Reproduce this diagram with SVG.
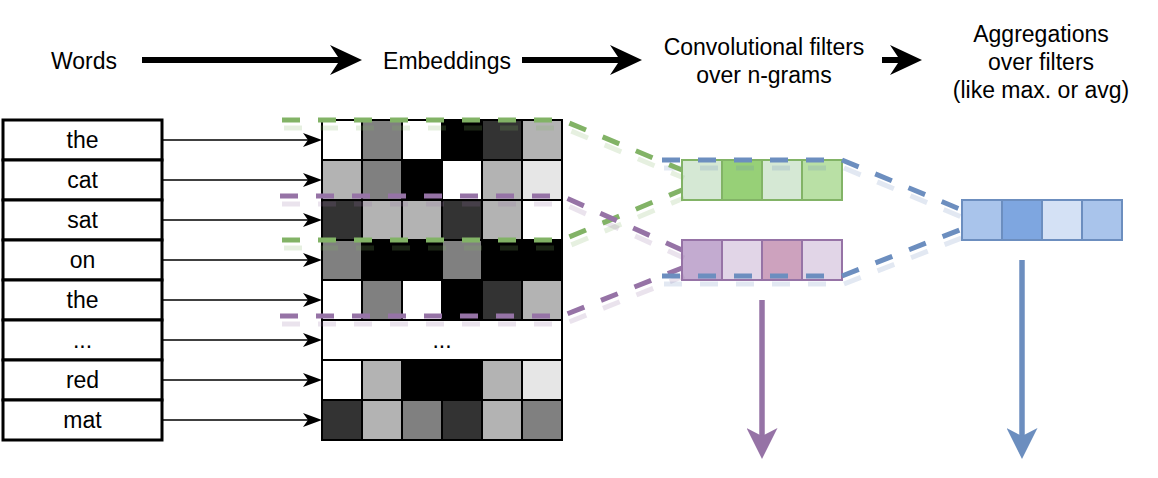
<svg xmlns="http://www.w3.org/2000/svg" xmlns:xlink="http://www.w3.org/1999/xlink" width="1158" height="478" viewBox="0 0 1158 478">
<style>
text{font-family:"Liberation Sans",Arial,Helvetica,sans-serif;font-size:23px;fill:#000;text-anchor:middle}
.wb{fill:#fff;stroke:#000;stroke-width:3}
.c{stroke:#000;stroke-width:2}
.w{fill:#fff}.l1{fill:#E6E6E6}.l2{fill:#B3B3B3}.m{fill:#808080}.d{fill:#333333}.k{fill:#000}
.gr rect{stroke:#82B366;stroke-width:2}
.pu rect{stroke:#9673A6;stroke-width:2}
.bl rect{stroke:#6C8EBF;stroke-width:2}
.thick{stroke:#000;stroke-width:6;fill:none}
.thin{stroke:#000;stroke-width:1.5;fill:none}
.dash{fill:none;stroke-width:5;stroke-dasharray:18 18}
.sh{stroke-opacity:0.2}
.g{stroke:#82B366}.p{stroke:#9673A6}.b{stroke:#6C8EBF}
</style>
<defs>
<marker id="ah" markerUnits="userSpaceOnUse" markerWidth="32" markerHeight="30" refX="10" refY="15" orient="auto"><path d="M0,0 L32,15 L0,30 L10,15 Z" fill="#000"/></marker>
<marker id="at" markerUnits="userSpaceOnUse" markerWidth="19" markerHeight="14" refX="5" refY="7" orient="auto"><path d="M0,0 L19,7 L0,14 L5,7 Z" fill="#000"/></marker>
<marker id="ap" markerUnits="userSpaceOnUse" markerWidth="31" markerHeight="31" refX="8" refY="15.5" orient="auto"><path d="M0,0 L31,15.5 L0,31 L8,15.5 Z" fill="#9673A6"/></marker>
<marker id="ab" markerUnits="userSpaceOnUse" markerWidth="31" markerHeight="31" refX="8" refY="15.5" orient="auto"><path d="M0,0 L31,15.5 L0,31 L8,15.5 Z" fill="#6C8EBF"/></marker>
<path id="dg1" d="M282,120 H562 L682,170"/>
<path id="dg2" d="M282,240 H562 L682,190"/>
<path id="dp1" d="M280,196 H562 L682,250"/>
<path id="dp2" d="M280,316 H562 L682,268"/>
<path id="db1" d="M662,160 H842 L962,210"/>
<path id="db2" d="M662,276 H842 L962,229"/>
</defs>
<rect width="1158" height="478" fill="#fff"/>

<g id="labels">
<g id="lbl-words"><text x="84" y="69">Words</text></g>
<g id="lbl-emb"><text x="447" y="69">Embeddings</text></g>
<g id="lbl-conv"><text x="764" y="55">Convolutional filters</text><text x="764" y="83">over n-grams</text></g>
<g id="lbl-agg"><text x="1041" y="42">Aggregations</text><text x="1041" y="70">over filters</text><text x="1041" y="98">(like max. or avg)</text></g>
</g>

<g id="words">
<g id="w1"><rect class="wb" x="3" y="120" width="159" height="40"/><text x="82.5" y="148">the</text></g>
<g id="w2"><rect class="wb" x="3" y="160" width="159" height="40"/><text x="82.5" y="188">cat</text></g>
<g id="w3"><rect class="wb" x="3" y="200" width="159" height="40"/><text x="82.5" y="228">sat</text></g>
<g id="w4"><rect class="wb" x="3" y="240" width="159" height="40"/><text x="82.5" y="268">on</text></g>
<g id="w5"><rect class="wb" x="3" y="280" width="159" height="40"/><text x="82.5" y="308">the</text></g>
<g id="w6"><rect class="wb" x="3" y="320" width="159" height="40"/><text x="82.5" y="348">...</text></g>
<g id="w7"><rect class="wb" x="3" y="360" width="159" height="40"/><text x="82.5" y="388">red</text></g>
<g id="w8"><rect class="wb" x="3" y="400" width="159" height="40"/><text x="82.5" y="428">mat</text></g>
</g>

<g id="embeddings">
<g id="e1">
<rect class="c w" x="322" y="120" width="40" height="40"/><rect class="c m" x="362" y="120" width="40" height="40"/><rect class="c w" x="402" y="120" width="40" height="40"/><rect class="c k" x="442" y="120" width="40" height="40"/><rect class="c d" x="482" y="120" width="40" height="40"/><rect class="c l2" x="522" y="120" width="40" height="40"/>
</g>
<g id="e2">
<rect class="c l2" x="322" y="160" width="40" height="40"/><rect class="c m" x="362" y="160" width="40" height="40"/><rect class="c k" x="402" y="160" width="40" height="40"/><rect class="c w" x="442" y="160" width="40" height="40"/><rect class="c l2" x="482" y="160" width="40" height="40"/><rect class="c l1" x="522" y="160" width="40" height="40"/>
</g>
<g id="e3">
<rect class="c d" x="322" y="200" width="40" height="40"/><rect class="c l2" x="362" y="200" width="40" height="40"/><rect class="c l2" x="402" y="200" width="40" height="40"/><rect class="c d" x="442" y="200" width="40" height="40"/><rect class="c l2" x="482" y="200" width="40" height="40"/><rect class="c w" x="522" y="200" width="40" height="40"/>
</g>
<g id="e4">
<rect class="c m" x="322" y="240" width="40" height="40"/><rect class="c k" x="362" y="240" width="40" height="40"/><rect class="c k" x="402" y="240" width="40" height="40"/><rect class="c m" x="442" y="240" width="40" height="40"/><rect class="c k" x="482" y="240" width="40" height="40"/><rect class="c k" x="522" y="240" width="40" height="40"/>
</g>
<g id="e5">
<rect class="c w" x="322" y="280" width="40" height="40"/><rect class="c m" x="362" y="280" width="40" height="40"/><rect class="c w" x="402" y="280" width="40" height="40"/><rect class="c k" x="442" y="280" width="40" height="40"/><rect class="c d" x="482" y="280" width="40" height="40"/><rect class="c l2" x="522" y="280" width="40" height="40"/>
</g>
<g id="e6"><rect class="c w" x="322" y="320" width="240" height="40"/><text x="442" y="348">...</text></g>
<g id="e7">
<rect class="c w" x="322" y="360" width="40" height="40"/><rect class="c l2" x="362" y="360" width="40" height="40"/><rect class="c k" x="402" y="360" width="40" height="40"/><rect class="c k" x="442" y="360" width="40" height="40"/><rect class="c l2" x="482" y="360" width="40" height="40"/><rect class="c l1" x="522" y="360" width="40" height="40"/>
</g>
<g id="e8">
<rect class="c d" x="322" y="400" width="40" height="40"/><rect class="c l2" x="362" y="400" width="40" height="40"/><rect class="c m" x="402" y="400" width="40" height="40"/><rect class="c d" x="442" y="400" width="40" height="40"/><rect class="c l2" x="482" y="400" width="40" height="40"/><rect class="c m" x="522" y="400" width="40" height="40"/>
</g>
</g>

<g id="filter-green" class="gr">
<rect x="682" y="160" width="40" height="40" fill="#D5E8D4"/><rect x="722" y="160" width="40" height="40" fill="#97D077"/><rect x="762" y="160" width="40" height="40" fill="#D5E8D4"/><rect x="802" y="160" width="40" height="40" fill="#B9E0A5"/>
</g>
<g id="filter-purple" class="pu">
<rect x="682" y="240" width="40" height="40" fill="#C3ABD0"/><rect x="722" y="240" width="40" height="40" fill="#E1D5E7"/><rect x="762" y="240" width="40" height="40" fill="#CDA2BE"/><rect x="802" y="240" width="40" height="40" fill="#E1D5E7"/>
</g>
<g id="aggregation" class="bl">
<rect x="962" y="200" width="40" height="40" fill="#A9C4EB"/><rect x="1002" y="200" width="40" height="40" fill="#7EA6E0"/><rect x="1042" y="200" width="40" height="40" fill="#D4E1F5"/><rect x="1082" y="200" width="40" height="40" fill="#A9C4EB"/>
</g>

<g id="connectors">
<path class="thick" d="M142,60 H340" marker-end="url(#ah)"/>
<path class="thick" d="M522,60 H620" marker-end="url(#ah)"/>
<path class="thick" d="M882,60 H900" marker-end="url(#ah)"/>
<path class="thin" d="M162,140 H308" marker-end="url(#at)"/>
<path class="thin" d="M162,180 H308" marker-end="url(#at)"/>
<path class="thin" d="M162,220 H308" marker-end="url(#at)"/>
<path class="thin" d="M162,260 H308" marker-end="url(#at)"/>
<path class="thin" d="M162,300 H308" marker-end="url(#at)"/>
<path class="thin" d="M162,340 H308" marker-end="url(#at)"/>
<path class="thin" d="M162,380 H308" marker-end="url(#at)"/>
<path class="thin" d="M162,420 H308" marker-end="url(#at)"/>
<g transform="translate(2,8)">
<use xlink:href="#dg1" class="dash g sh"/><use xlink:href="#dg2" class="dash g sh"/>
<use xlink:href="#dp1" class="dash p sh"/><use xlink:href="#dp2" class="dash p sh"/>
<use xlink:href="#db1" class="dash b sh"/><use xlink:href="#db2" class="dash b sh"/>
</g>
<use xlink:href="#dg1" class="dash g"/><use xlink:href="#dg2" class="dash g"/>
<use xlink:href="#dp1" class="dash p"/><use xlink:href="#dp2" class="dash p"/>
<use xlink:href="#db1" class="dash b"/><use xlink:href="#db2" class="dash b"/>
<path d="M762,300 V436" stroke="#9673A6" stroke-width="5.5" fill="none" marker-end="url(#ap)"/>
<path d="M1022,260 V436" stroke="#6C8EBF" stroke-width="5.5" fill="none" marker-end="url(#ab)"/>
</g>
</svg>
